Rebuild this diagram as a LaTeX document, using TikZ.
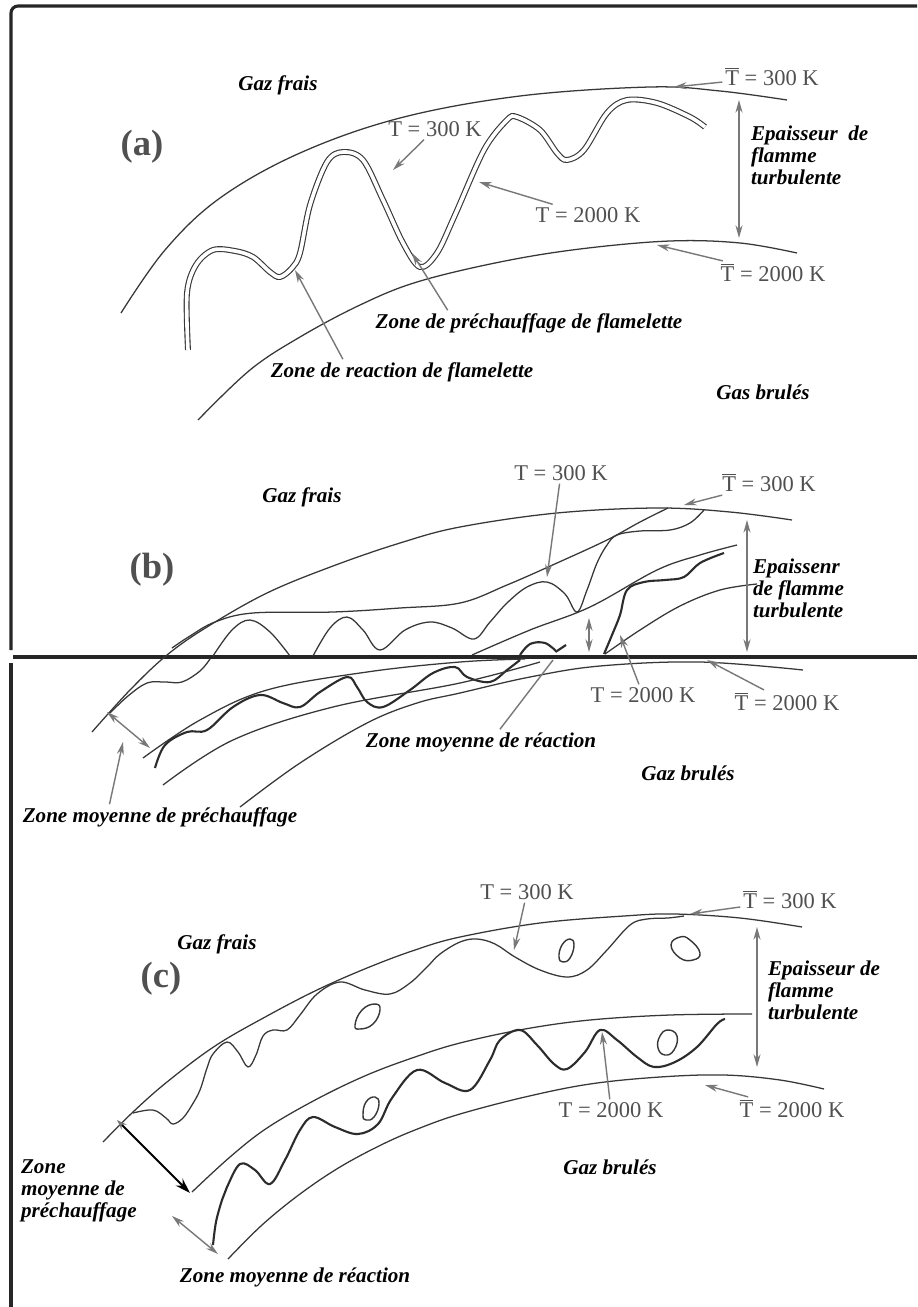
\documentclass[tikz,border=0pt]{standalone}
\usepackage{fontspec}
\setmainfont{Liberation Serif}
\usetikzlibrary{arrows.meta,calc}
\definecolor{inkline}{RGB}{55,55,55}
\definecolor{ptrgray}{RGB}{120,120,120}
\definecolor{txtgray}{RGB}{80,80,80}
\newcommand\tbarlbl{\leavevmode\vbox{\hrule height 0.7pt\kern 1.5pt\hbox{T}}}

\begin{document}
\begin{tikzpicture}[x=0.025cm,y=-0.025cm,
  brushline/.style={draw=inkline,line width=0.9pt,line join=round},
  waveline/.style={draw=inkline!80!black,line width=1.5pt,line join=round},
  flamelet/.style={draw=inkline,line width=0.8pt,double=white,double distance=2.6pt},
  bubble/.style={draw=inkline,line width=1pt},
  pointer/.style={draw=ptrgray,line width=1pt,-{Stealth[length=9pt,width=5pt]}},
  leader/.style={draw=ptrgray,line width=1pt},
  spanarrow/.style={draw=ptrgray,line width=1pt,{Stealth[length=9pt,width=5pt]}-{Stealth[length=9pt,width=5pt]}},
  zonelbl/.style={font=\fontsize{15}{15.5}\selectfont\bfseries\itshape,inner sep=2pt},
  templbl/.style={font=\fontsize{16}{18}\selectfont,text=txtgray,inner sep=2pt},
  panellbl/.style={font=\fontsize{26}{28}\selectfont\bfseries,text=txtgray},
  frameline/.style={draw=black!85,line width=2.2pt}]
  \fill[white] (0,0) rectangle (917,1307);
  \useasboundingbox (0,0) rectangle (917,1307);

  \draw[frameline,rounded corners=5pt] (11,650) -- (11,6) -- (917,6);
  \draw[frameline] (13,657) -- (917,657);
  \draw[frameline] (11,663) -- (11,1307);

  \node[zonelbl] (gfa) at (278,85) {Gaz frais};
  \node[panellbl] (pa) at (142,147) {(a)};
  \draw[brushline] plot[smooth,tension=0.6] coordinates {(121,313) (165,250) (220,198) (300,153) (400,118) (520,96) (650,87) (720,91) (787,100)};
  \draw[brushline] plot[smooth,tension=0.6] coordinates {(198,420) (250,370) (300,337) (360,305) (417,282) (500,262) (580,249) (670,241) (740,243) (797,253)};
  \draw[flamelet] plot[smooth,tension=0.55] coordinates {(188,350) (187,293) (196,265) (213,250) (235,251) (253,257) (270,272) (280,277) (292,268) (300,253) (310,205) (327,162) (343,152) (363,160) (383,200) (403,243) (420,267) (437,253) (455,215) (484,150) (507,120) (517,117) (540,130) (557,153) (567,160) (584,150) (607,113) (627,100) (657,103) (690,117) (705,127)};
  \node[templbl] (tbar300a) at (772,77) {\tbarlbl{} = 300 K};
  \coordinate (tbar300a-tip) at (674,87);
  \draw[pointer] (tbar300a) -- (tbar300a-tip);
  \node[templbl] (t300a) at (435,129) {T = 300 K};
  \coordinate (t300a-tip) at (393,170);
  \draw[pointer] (t300a) -- (t300a-tip);
  \node[templbl] (t2000a) at (588,215) {T = 2000 K};
  \coordinate (t2000a-tip) at (479,182);
  \draw[pointer] (t2000a) -- (t2000a-tip);
  \node[templbl] (tbar2000a) at (773,273) {\tbarlbl{} = 2000 K};
  \coordinate (tbar2000a-tip) at (657,245);
  \draw[pointer] (tbar2000a) -- (tbar2000a-tip);
  \coordinate (epa-top) at (739,100);
  \coordinate (epa-bot) at (739,238);
  \draw[spanarrow] (epa-top) -- (epa-bot);
  \node[zonelbl,align=left,anchor=north west] (epa) at (748,123) {Epaisseur\ \ de\\flamme\\turbulente};
  \node[zonelbl] (zpfa) at (529,323) {Zone de préchauffage de flamelette};
  \coordinate (zpfa-tip) at (412,253);
  \draw[pointer] ($(zpfa.north west)!0.24!(zpfa.north east)$) -- (zpfa-tip);
  \node[zonelbl] (zrfa) at (402,372) {Zone de reaction de flamelette};
  \coordinate (zrfa-tip) at (295,270);
  \draw[pointer] ($(zrfa.north west)!0.28!(zrfa.north east)$) -- (zrfa-tip);
  \node[zonelbl] (gba) at (763,392) {Gas brulés};

  \node[zonelbl] (gfb) at (302,497) {Gaz frais};
  \node[panellbl] (pb) at (152,570) {(b)};
  \draw[brushline] plot[smooth,tension=0.6] coordinates {(92,732) (130,690) (167,655) (207,627) (267,593) (333,566) (400,543) (460,527) (557,513) (657,508) (730,512) (792,520)};
  \draw[brushline] plot[smooth,tension=0.6] coordinates {(172,648) (190,636) (215,622) (253,613) (333,612) (400,608) (460,603) (507,585) (557,563) (607,540) (640,522) (668,508)};
  \draw[brushline] plot[smooth,tension=0.6] coordinates {(213,656) (232,630) (250,620) (270,632) (290,656)};
  \draw[brushline] plot[smooth,tension=0.6] coordinates {(313,656) (330,628) (347,617) (363,630) (380,650) (405,630) (430,622) (452,628) (474,639) (490,622) (507,603) (527,587) (547,582) (565,594) (577,612) (587,590) (597,563) (607,545) (617,535) (640,531) (670,530) (690,523) (704,510)};
  \draw[brushline] plot[smooth,tension=0.6] coordinates {(472,655) (530,630) (590,607) (657,570) (700,555) (737,545)};
  \draw[waveline] plot[smooth,tension=0.6] coordinates {(604,654) (612,635) (620,615) (627,590) (644,582) (665,580) (684,577) (700,563) (724,553)};
  \draw[brushline] plot[smooth,tension=0.6] coordinates {(605,654) (640,630) (680,606) (720,590) (757,584)};
  \draw[waveline] plot[smooth,tension=0.6] coordinates {(520,655) (530,644) (545,643) (557,652)};
  \draw[waveline] (557,651) -- (566,645);
  \coordinate (midb-top) at (589,618);
  \coordinate (midb-bot) at (589,652);
  \draw[spanarrow] (midb-top) -- (midb-bot);
  \draw[brushline] plot[smooth,tension=0.6] coordinates {(110,713) (128,696) (147,683) (165,682) (182,682) (200,671) (210,659)};
  \draw[brushline] plot[smooth,tension=0.6] coordinates {(143,758) (200,720) (267,690) (367,672) (460,662) (525,659)};
  \draw[waveline] plot[smooth,tension=0.6] coordinates {(155,768) (165,745) (187,732) (207,730) (233,707) (260,695) (283,703) (300,707) (320,692) (347,677) (357,687) (367,702) (383,707) (410,690) (433,673) (455,667) (467,677) (490,682) (507,670) (520,660)};
  \draw[brushline] plot[smooth,tension=0.6] coordinates {(163,785) (233,740) (333,707) (460,683) (540,662)};
  \draw[brushline] plot[smooth,tension=0.6] coordinates {(240,807) (300,763) (367,723) (417,703) (460,693) (530,677) (600,666) (700,662) (803,670)};
  \node[templbl] (t300b) at (561,473) {T = 300 K};
  \coordinate (t300b-tip) at (547,577);
  \draw[pointer] (t300b) -- (t300b-tip);
  \node[templbl] (tbar300b) at (769,483) {\tbarlbl{} = 300 K};
  \coordinate (tbar300b-tip) at (684,505);
  \draw[pointer] (tbar300b) -- (tbar300b-tip);
  \coordinate (epb-top) at (747,520);
  \coordinate (epb-bot) at (747,652);
  \draw[spanarrow] (epb-top) -- (epb-bot);
  \node[zonelbl,align=left,anchor=north west] (epb) at (750,556) {Epaissenr\\de flamme\\turbulente};
  \node[templbl] (t2000b) at (643,695) {T = 2000 K};
  \coordinate (t2000b-tip) at (620,635);
  \draw[pointer] (t2000b) -- (t2000b-tip);
  \node[templbl] (tbar2000b) at (787,702) {\tbarlbl{} = 2000 K};
  \coordinate (tbar2000b-tip) at (707,660);
  \draw[pointer] (tbar2000b) -- (tbar2000b-tip);
  \coordinate (zmpb-top) at (107,712);
  \coordinate (zmpb-bot) at (150,748);
  \draw[spanarrow] (zmpb-top) -- (zmpb-bot);
  \node[zonelbl] (zmpb) at (160,817) {Zone moyenne de préchauffage};
  \coordinate (zmpb-tip) at (123,742);
  \draw[pointer] ($(zmpb.north west)!0.32!(zmpb.north east)$) -- (zmpb-tip);
  \node[zonelbl] (zrb) at (481,742) {Zone moyenne de réaction};
  \coordinate (zrb-end) at (553,660);
  \draw[leader] ($(zrb.north west)!0.58!(zrb.north east)$) -- (zrb-end);
  \node[zonelbl] (gbb) at (688,773) {Gaz brulés};

  \node[zonelbl] (gfc) at (217,944) {Gaz frais};
  \node[panellbl] (pc) at (161,979) {(c)};
  \draw[brushline] plot[smooth,tension=0.6] coordinates {(103,1142) (133,1112) (167,1082) (215,1046) (267,1016) (317,990) (367,968) (415,950) (460,937) (540,923) (624,916) (674,914) (740,918) (802,927)};
  \draw[brushline] plot[smooth,tension=0.6] coordinates {(133,1113) (153,1110) (166,1118) (173,1124) (183,1118) (192,1105) (200,1090) (207,1068) (213,1054) (227,1042) (238,1052) (248,1067) (256,1055) (263,1036) (273,1030) (287,1030) (300,1015) (317,994) (340,982) (365,990) (390,994) (410,983) (427,967) (440,954) (460,942) (477,939) (495,944) (515,957) (540,970) (567,977) (587,970) (607,950) (630,925) (647,919) (668,918) (684,916)};
  \draw[brushline] plot[smooth,tension=0.6] coordinates {(192,1192) (230,1157) (267,1128) (317,1099) (367,1075) (415,1057) (460,1043) (525,1029) (590,1020) (670,1015) (752,1014)};
  \draw[waveline] plot[smooth,tension=0.6] coordinates {(213,1245) (216,1222) (222,1200) (227,1187) (240,1164) (255,1170) (270,1184) (285,1160) (300,1130) (313,1117) (335,1127) (358,1134) (378,1124) (392,1098) (417,1070) (445,1083) (470,1090) (490,1060) (500,1040) (520,1030) (537,1045) (554,1064) (567,1069) (585,1052) (600,1030) (617,1040) (637,1057) (654,1067) (675,1062) (697,1047) (717,1024) (725,1019)};
  \draw[brushline] plot[smooth,tension=0.6] coordinates {(228,1259) (262,1225) (300,1194) (340,1167) (383,1144) (420,1128) (460,1114) (525,1097) (590,1084) (660,1077) (724,1075) (780,1080) (824,1089)};
  \draw[bubble] plot[smooth cycle,tension=0.8] coordinates {(355,1025) (362,1010) (375,1004) (380,1010) (373,1024) (360,1029)};
  \draw[bubble] plot[smooth cycle,tension=0.8] coordinates {(363,1115) (366,1102) (375,1097) (379,1104) (374,1117) (366,1120)};
  \draw[bubble] plot[smooth cycle,tension=0.8] coordinates {(559,957) (562,945) (570,939) (574,945) (570,958) (563,962)};
  \draw[bubble] plot[smooth cycle,tension=0.8] coordinates {(671,945) (680,937) (690,940) (700,953) (693,960) (680,958)};
  \draw[bubble] plot[smooth cycle,tension=0.8] coordinates {(658,1048) (660,1036) (668,1030) (677,1036) (674,1050) (665,1055)};
  \node[templbl] (t300c) at (527,892) {T = 300 K};
  \coordinate (t300c-tip) at (514,950);
  \draw[pointer] (t300c) -- (t300c-tip);
  \node[templbl] (tbar300c) at (790,900) {\tbarlbl{} = 300 K};
  \coordinate (tbar300c-tip) at (690,914);
  \draw[pointer] (tbar300c) -- (tbar300c-tip);
  \coordinate (epc-top) at (757,927);
  \coordinate (epc-bot) at (757,1067);
  \draw[spanarrow] (epc-top) -- (epc-bot);
  \node[zonelbl,align=left,anchor=north west] (epc) at (765,958) {Epaisseur de\\flamme\\turbulente};
  \node[templbl] (t2000c) at (611,1110) {T = 2000 K};
  \coordinate (t2000c-tip) at (602,1032);
  \draw[pointer] (t2000c) -- (t2000c-tip);
  \node[templbl] (tbar2000c) at (792,1109) {\tbarlbl{} = 2000 K};
  \coordinate (tbar2000c-tip) at (705,1085);
  \draw[pointer] (tbar2000c) -- (tbar2000c-tip);
  \node[zonelbl] (gbc) at (610,1167) {Gaz brulés};
  \coordinate (zmpc-top) at (117,1120);
  \coordinate (zmpc-bot) at (190,1193);
  \draw[line width=1.4pt,black,{Stealth[length=7pt,width=5pt,color=ptrgray]}-{Stealth[length=11pt,width=7pt]}] (zmpc-top) -- (zmpc-bot);
  \node[zonelbl,align=left,anchor=north west] (zmpc) at (18,1157) {Zone\\moyenne de\\préchauffage};
  \coordinate (zrc-top) at (172,1216);
  \coordinate (zrc-bot) at (218,1254);
  \draw[spanarrow] (zrc-top) -- (zrc-bot);
  \node[zonelbl] (zrc) at (295,1277) {Zone moyenne de réaction};
\end{tikzpicture}
\end{document}
